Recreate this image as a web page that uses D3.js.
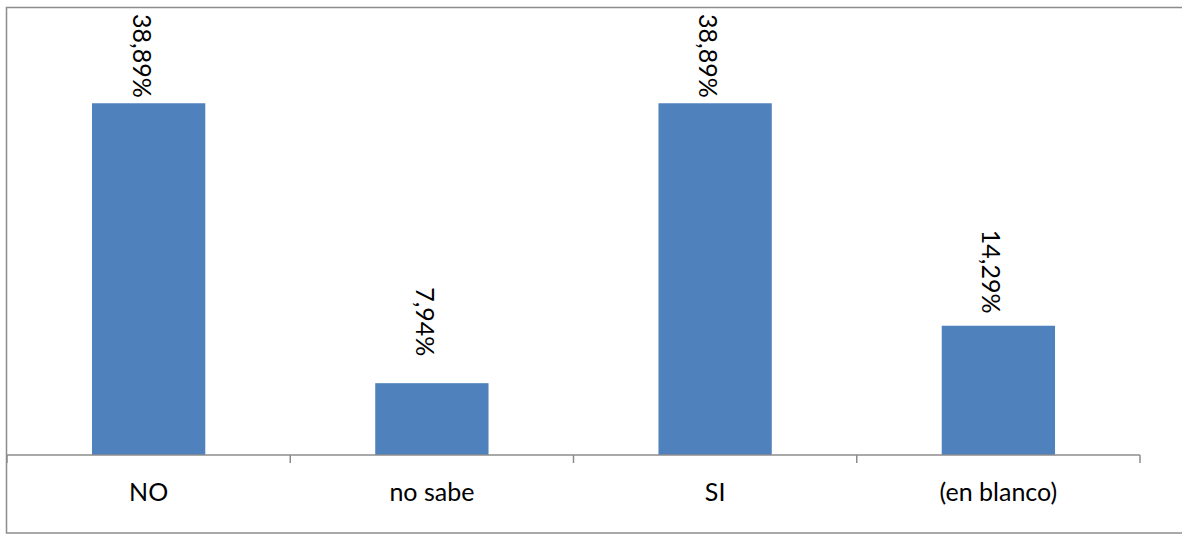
<!DOCTYPE html>
<html>
<head>
<meta charset="utf-8">
<script src="https://cdn.jsdelivr.net/npm/d3@7"></script>
<style>
html,body{margin:0;padding:0;background:#fff;}
svg{display:block;}
text{font-family:Lato,"Liberation Sans",sans-serif;fill:#000;}
</style>
</head>
<body>
<script>
const categories = ["NO", "no sabe", "SI", "(en blanco)"];
const values = [38.89, 7.94, 38.89, 14.29];
const valueLabels = ["38,89%", "7,94%", "38,89%", "14,29%"];

const W = 1182, H = 535;
const svg = d3.select("body").append("svg").attr("width", W).attr("height", H);

// outer border
svg.append("rect").attr("x", 6.5).attr("y", 7.5).attr("width", 1190).attr("height", 525.5)
  .attr("fill", "#fff").attr("stroke", "#8c8c8c").attr("stroke-width", 1.5);

const pInner = 0.6;
const x = d3.scaleBand().domain(categories).range([7, 1140]).paddingInner(pInner).paddingOuter(pInner / 2);
const y = d3.scaleLinear().domain([0, 45]).range([455, 48]);

// bars
svg.selectAll("rect.bar").data(categories).enter().append("rect")
  .attr("class", "bar")
  .attr("x", d => x(d))
  .attr("width", x.bandwidth())
  .attr("y", (d, i) => y(values[i]))
  .attr("height", (d, i) => y(0) - y(values[i]))
  .attr("fill", "#4F81BD");

// axis
const axisG = svg.append("g").attr("transform", `translate(0,${y(0)})`);
axisG.call(d3.axisBottom(x).tickSize(0).tickPadding(28));
axisG.select(".domain").remove();
axisG.selectAll(".tick text").attr("font-size", 25).attr("font-family", "Lato").attr("fill", "#000");
const half = x.step() * pInner / 2;
const tickPos = categories.map(d => x(d) - half).concat([x.range()[1]]);
axisG.append("line").attr("x1", x.range()[0]).attr("x2", x.range()[1]).attr("y1", 0).attr("y2", 0)
  .attr("stroke", "#8c8c8c").attr("stroke-width", 1.5);
axisG.selectAll("line.tk").data(tickPos).enter().append("line").attr("class", "tk")
  .attr("x1", d => d).attr("x2", d => d).attr("y1", 0).attr("y2", 8)
  .attr("stroke", "#8c8c8c").attr("stroke-width", 1.5);

// value labels (rotated, reading downward)
svg.selectAll("text.vl").data(categories).enter().append("text")
  .attr("class", "vl")
  .attr("transform", (d, i) => {
    const cx = x(d) + x.bandwidth() / 2 - 16;
    const top = Math.max(y(values[i]) - 96, 14);
    return `translate(${cx},${top}) rotate(90)`;
  })
  .attr("text-anchor", "start")
  .attr("font-size", 25)
  .text((d, i) => valueLabels[i]);
</script>
</body>
</html>
